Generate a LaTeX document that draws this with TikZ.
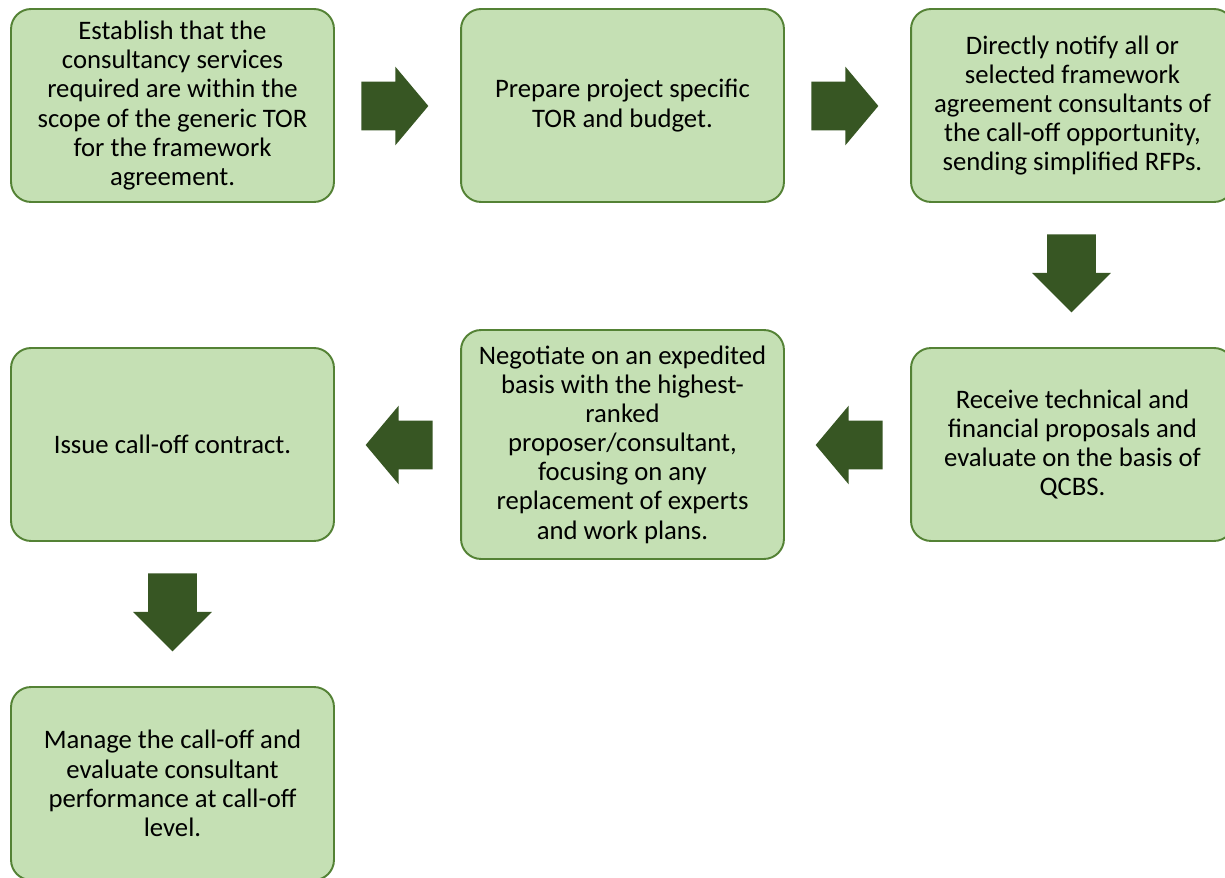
\documentclass[tikz,border=0pt]{standalone}
\usepackage{fontspec}
\setmainfont{Carlito}
\usepackage{tikz}
\usetikzlibrary{shapes.arrows}

\definecolor{boxfill}{HTML}{C5E0B4}
\definecolor{boxline}{HTML}{548235}
\definecolor{arrowfill}{HTML}{375623}

\tikzset{
    stepbox/.style={draw=boxline, fill=boxfill, line width=1.1pt, rounded corners=0.4cm,
        minimum width=6.46cm, minimum height=3.86cm, inner sep=0pt, align=center,
        font=\fontsize{15.2}{16.6}\selectfont},
    blockarrow/.style={single arrow, fill=arrowfill, draw=none, anchor=tail,
        inner xsep=0pt, inner ysep=0.48cm, minimum height=1.34cm,
        single arrow head extend=0.3cm, single arrow tip angle=100},
    downarrow/.style={blockarrow, shape border rotate=270, inner xsep=0.48cm, inner ysep=0pt,
        minimum height=1.56cm, single arrow tip angle=90},
    leftarrow/.style={blockarrow, shape border rotate=180}
}

\begin{document}
\begin{tikzpicture}[x=0.02cm, y=-0.02cm]
    \useasboundingbox (0,0) rectangle (1225,878);

    \node [stepbox] (establish) at (172.5,105.5) {Establish that the\\consultancy services\\required are within the\\scope of the generic TOR\\for the framework\\agreement.};
    \node [stepbox] (prepare) at (622.5,105.5) {Prepare project specific\\TOR and budget.};
    \node [stepbox] (notify) at (1072.5,105.5) {Directly notify all or\\selected framework\\agreement consultants of\\the call-off opportunity,\\sending simplified RFPs.};

    \node [stepbox] (receive) at (1072.5,444.5) {Receive technical and\\financial proposals and\\evaluate on the basis of\\QCBS.};
    \node [stepbox, minimum height=4.58cm] (negotiate) at (622.5,444.5) {Negotiate on an expedited\\basis with the highest-\\ranked\\proposer/consultant,\\focusing on any\\replacement of experts\\and work plans.};
    \node [stepbox] (issue) at (172.5,444.5) {Issue call-off contract.};

    \node [stepbox] (manage) at (172.5,783.5) {Manage the call-off and\\evaluate consultant\\performance at call-off\\level.};

    \node [blockarrow] (arr1) at (361,106) {};
    \node [blockarrow] (arr2) at (811,106) {};
    \node [downarrow] (arr3) at (1071.5,234) {};
    \node [leftarrow] (arr4) at (883,445) {};
    \node [leftarrow] (arr5) at (433,445) {};
    \node [downarrow] (arr6) at (172.5,573) {};
\end{tikzpicture}
\end{document}
